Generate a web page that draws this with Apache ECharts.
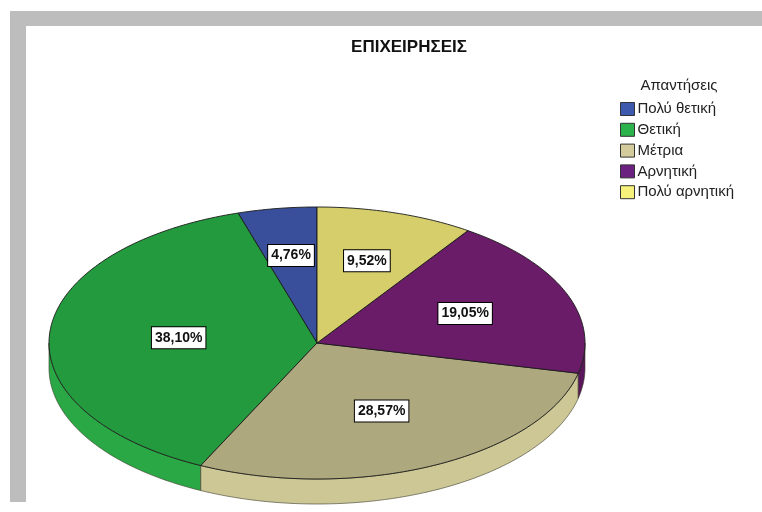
<!DOCTYPE html>
<html>
<head>
<meta charset="utf-8">
<script src="https://cdn.jsdelivr.net/npm/echarts@6/dist/echarts.min.js"></script>
<style>html,body{margin:0;padding:0;background:#fff}#c{width:762px;height:512px}</style>
</head>
<body>
<div id="c"></div>
<script>
// ---- data ----
const chartTitle = 'ΕΠΙΧΕΙΡΗΣΕΙΣ';
const legendTitle = 'Απαντήσεις';
const categories = ['Πολύ θετική', 'Θετική', 'Μέτρια', 'Αρνητική', 'Πολύ αρνητική'];
const percents = [4.76, 38.10, 28.57, 19.05, 9.52];

// ---- style ----
const legendColors = ['#3d59ad', '#2bb24b', '#d3cb9c', '#6b2180', '#f5f17b'];
const topColors    = ['#3a4f9b', '#239a3d', '#aea87e', '#6a1c68', '#d5ce6a'];
const sideColors   = ['#34478c', '#29a845', '#cdc796', '#5a165a', '#c9c160'];
const FONT = '"Liberation Sans", Arial, sans-serif';
const G = { cx: 317, cy: 343, rx: 268, ry: 136, depth: 25 };

const total = percents.reduce((a, b) => a + b, 0);
const TWO_PI = Math.PI * 2;

function pt(t, dy) {
  return [G.cx - G.rx * Math.sin(t), G.cy - G.ry * Math.cos(t) + dy];
}
function arc(s, e, dy) {
  const n = Math.max(2, Math.ceil((e - s) / 0.015));
  const out = [];
  for (let k = 0; k <= n; k++) out.push(pt(s + (e - s) * k / n, dy));
  return out;
}

function makeRender(i) {
  return function (params, api) {
    let before = 0;
    for (let j = 0; j < i; j++) before += percents[j];
    const v = api.value(0);
    const a0 = before / total * TWO_PI;
    const a1 = (before + v) / total * TWO_PI;
    const children = [];
    const s = Math.max(a0, Math.PI / 2), e = Math.min(a1, Math.PI * 1.5);
    if (e > s) {
      const pts = arc(s, e, 0).concat(arc(s, e, G.depth).reverse());
      children.push({
        type: 'polygon', shape: { points: pts }, z2: 1,
        style: { fill: sideColors[i], stroke: '#3a3a2a', lineWidth: 0.6 }
      });
    }
    const top = [[G.cx, G.cy]].concat(arc(a0, a1, 0));
    children.push({
      type: 'polygon', shape: { points: top }, z2: 5,
      style: { fill: topColors[i], stroke: '#1a1a1a', lineWidth: 0.9 }
    });
    const mid = (a0 + a1) / 2;
    const f = 0.67 - 0.4 * v / total;
    const lx = G.cx - G.rx * f * Math.sin(mid);
    const ly = G.cy - G.ry * f * Math.cos(mid);
    children.push({
      type: 'text', x: lx, y: ly, z2: 10,
      style: {
        text: v.toFixed(2).replace('.', ',') + '%',
        font: 'bold 14px ' + FONT, fill: '#111',
        align: 'center', verticalAlign: 'middle',
        backgroundColor: '#fff', borderColor: '#000', borderWidth: 1,
        padding: [4, 3, 3, 3]
      }
    });
    return { type: 'group', children: children };
  };
}

const series = categories.map((name, i) => ({
  type: 'custom',
  name: name,
  coordinateSystem: 'none',
  renderItem: makeRender(i),
  itemStyle: { color: legendColors[i], borderColor: '#333', borderWidth: 1 },
  data: [[percents[i]]],
  animation: false
}));

const chart = echarts.init(document.getElementById('c'), null, { renderer: 'canvas' });
chart.setOption({
  backgroundColor: '#fff',
  animation: false,
  title: {
    text: chartTitle, left: 404, top: 34, textAlign: 'center',
    textStyle: { fontFamily: FONT, fontSize: 17, fontWeight: 'bold', color: '#111' }
  },
  legend: {
    orient: 'vertical', left: 620, top: 101.5, padding: 0,
    itemWidth: 14, itemHeight: 13, itemGap: 5.8,
    icon: 'rect',
    data: categories,
    itemStyle: { borderColor: '#333', borderWidth: 1 },
    textStyle: { fontFamily: FONT, fontSize: 15, color: '#222', padding: [0, 0, 0, -2], lineHeight: 13 },
    selectedMode: false
  },
  graphic: [
    { type: 'rect', shape: { x: 10, y: 11, width: 752, height: 15 }, style: { fill: '#bdbdbd' }, silent: true },
    { type: 'rect', shape: { x: 10, y: 11, width: 16, height: 491 }, style: { fill: '#bdbdbd' }, silent: true },
    { type: 'text', x: 679, y: 86, style: { text: legendTitle, font: '15px ' + FONT, fill: '#222', align: 'center', verticalAlign: 'middle' } }
  ],
  series: series
});
</script>
</body>
</html>
